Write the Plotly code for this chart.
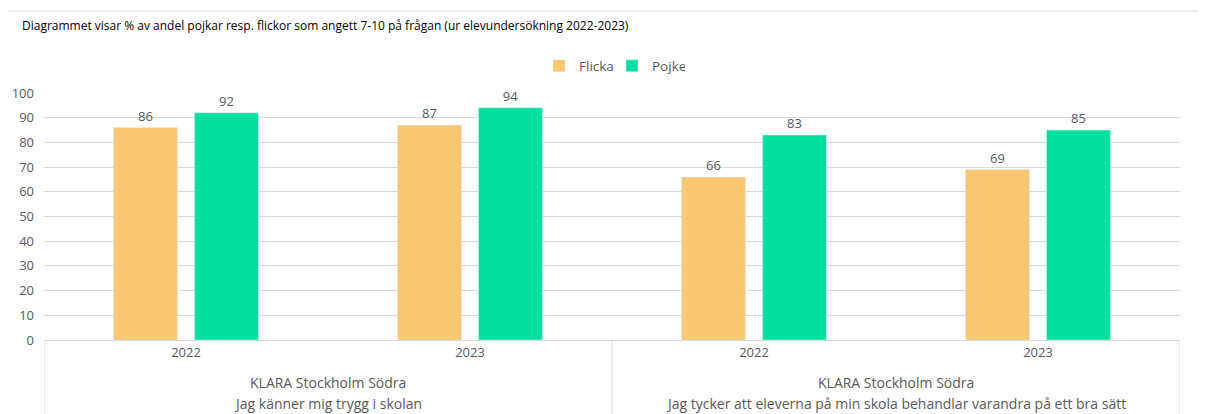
import plotly.graph_objects as go

years = ["2022", "2023", "2022", "2023"]
schools = ["KLARA Stockholm Södra", "KLARA Stockholm Södra"]
questions = ["Jag känner mig trygg i skolan",
             "Jag tycker att eleverna på min skola behandlar varandra på ett bra sätt"]
flicka = [86, 87, 66, 69]
pojke = [92, 94, 83, 85]
title = "Diagrammet visar % av andel pojkar resp. flickor som angett 7-10 på frågan (ur elevundersökning 2022-2023)"

FONT = "Open Sans"
GRAY = "#595959"
LINE = "#D9D9D9"
OFF = 8  # page body margin

xs = list(range(len(years)))

fig = go.Figure()
fig.add_trace(go.Bar(name="Flicka", x=xs, y=flicka, marker_color="#F8C771",
                     text=flicka, textposition="outside",
                     textfont=dict(color=GRAY, size=13, family=FONT), cliponaxis=False))
fig.add_trace(go.Bar(name="Pojke", x=xs, y=pojke, marker_color="#02E09F",
                     text=pojke, textposition="outside",
                     textfont=dict(color=GRAY, size=13, family=FONT), cliponaxis=False))

W, H = 1206 - OFF, 414 - OFF
ml, mt = 44 - OFF, 93 - OFF
mr = W - (1180 - OFF)
mb = H - (340 - OFF)
pw = W - ml - mr
ph = H - mt - mb

def px_x(p):
    return (p - OFF - ml) / pw

def px_y(p):
    return (mt + ph - (p - OFF)) / ph

shapes = []
shapes.append(dict(type="rect", xref="paper", yref="paper",
                   x0=px_x(7), x1=px_x(1240), y0=px_y(470), y1=px_y(11),
                   line=dict(color=LINE, width=1), layer="below"))
n_groups = len(questions)
per = len(years) // n_groups
for i in range(n_groups + 1):
    xv = -0.5 + i * per
    shapes.append(dict(type="line", xref="x", yref="paper", x0=xv, x1=xv,
                       y0=0, y1=px_y(470), line=dict(color=LINE, width=1)))

annotations = []
for i in range(n_groups):
    cx = -0.5 + i * per + per / 2
    annotations.append(dict(x=cx, xref="x", y=px_y(382), yref="paper",
                            text=schools[i], showarrow=False, yanchor="middle",
                            font=dict(family=FONT, size=14, color=GRAY)))
    annotations.append(dict(x=cx, xref="x", y=px_y(403), yref="paper",
                            text=questions[i], showarrow=False, yanchor="middle",
                            font=dict(family=FONT, size=14, color=GRAY)))
annotations.append(dict(x=px_x(20), xref="paper", y=px_y(25), yref="paper",
                        text=title, showarrow=False, xanchor="left", yanchor="middle",
                        font=dict(family=FONT, size=12, color="#000000")))

fig.update_layout(
    width=W, height=H,
    margin=dict(l=ml, r=mr, t=mt, b=mb, autoexpand=False),
    paper_bgcolor="white", plot_bgcolor="white",
    barmode="group", bargap=0.43, bargroupgap=0.21,
    font=dict(family=FONT, color=GRAY, size=13),
    showlegend=True,
    legend=dict(orientation="h", x=0.5, xanchor="center", y=px_y(66), yanchor="middle",
                font=dict(family=FONT, size=13.5, color=GRAY), itemwidth=30,
                entrywidth=28, entrywidthmode="pixels",
                traceorder="normal"),
    shapes=shapes, annotations=annotations,
    xaxis=dict(range=[-0.5, len(years) - 0.5], tickvals=xs, ticktext=years,
               showgrid=False, showline=True, linecolor=LINE, zeroline=False,
               automargin=False,
               tickfont=dict(family=FONT, size=13, color=GRAY), ticks="", fixedrange=True),
    yaxis=dict(range=[0, 100], dtick=10, showgrid=True, gridcolor=LINE, gridwidth=1,
               zeroline=False, showline=False, ticks="", ticklabelstandoff=9,
               automargin=False,
               tickfont=dict(family=FONT, size=13, color=GRAY), fixedrange=True),
)

fig.write_html("out.html")
